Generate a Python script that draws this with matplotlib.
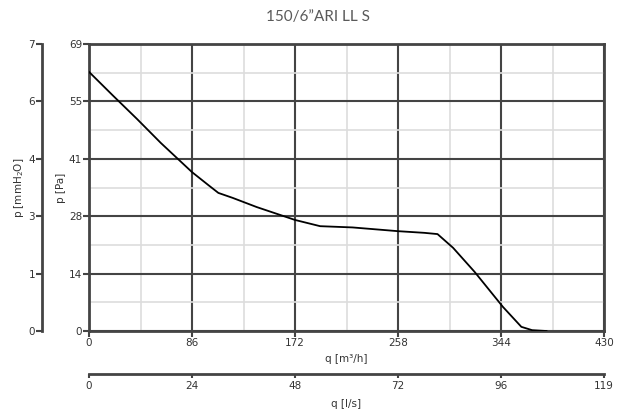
import matplotlib
matplotlib.use("Agg")
import matplotlib.pyplot as plt
import numpy as np

# Data
q_m3h = [0, 20, 40, 60, 86, 100, 108, 120, 140, 172, 193, 220, 258, 280, 291, 304, 322, 345.6, 361, 370, 382]
p_pa = [62.3, 56.6, 51.0, 45.2, 38.2, 35.0, 33.2, 32.0, 29.8, 26.7, 25.2, 24.9, 24.0, 23.6, 23.3, 20.0, 14.2, 5.8, 1.0, 0.2, 0.0]

x_ticks = [0, 86, 172, 258, 344, 430]
x_ticks_ls = ["0", "24", "48", "72", "96", "119"]
y_ticks_pa = ["0", "14", "28", "41", "55", "69"]
y_ticks_mm = ["0", "1", "3", "4", "6", "7"]
title = "150/6\u201dARI LL S"

W, H = 635, 413
fig = plt.figure(figsize=(W / 100, H / 100), dpi=100)
plt.rcParams['font.family'] = ['DejaVu Sans']

spine_c = "#444444"
txt_c = "#333333"
fs = 7.5

x0, x1, y0, y1 = 89, 604, 331, 44
ax = fig.add_axes([x0 / W, (H - y0) / H, (x1 - x0) / W, (y0 - y1) / H])
ymax = 69
ax.set_xlim(0, 430)
ax.set_ylim(0, ymax)
ypos = np.linspace(0, ymax, 6)
ax.set_xticks(x_ticks)
ax.set_yticks(ypos)
ax.set_yticklabels(y_ticks_pa)
ax.set_xticks(np.arange(43, 430, 86), minor=True)
ax.set_yticks(ypos[:-1] + ymax / 10, minor=True)
ax.grid(which="minor", color="#dddddd", lw=1.2, zorder=0)
ax.grid(which="major", color="#444444", lw=1.5, zorder=1)
for s in ax.spines.values():
    s.set_color(spine_c)
    s.set_linewidth(2)
ax.tick_params(which="major", colors=spine_c, labelcolor=txt_c, labelsize=fs, length=4, width=1.5, pad=1)
ax.tick_params(which="minor", length=0)
ax.plot(q_m3h, p_pa, color="black", lw=1.3, zorder=3)
ax.set_xlabel("q [m\u00b3/h]", fontsize=fs, color=txt_c, labelpad=4)
ax.set_ylabel("p [Pa]", fontsize=fs, color=txt_c, labelpad=2)

# outer mmH2O axis
ax_mm = fig.add_axes([42 / W, (H - y0) / H, 0.001, (y0 - y1) / H])
ax_mm.set_ylim(0, ymax)
ax_mm.set_yticks(ypos)
ax_mm.set_yticklabels(y_ticks_mm)
ax_mm.set_xticks([])
for k in ["top", "right", "bottom"]:
    ax_mm.spines[k].set_visible(False)
ax_mm.spines["left"].set_color(spine_c)
ax_mm.spines["left"].set_linewidth(2)
ax_mm.patch.set_visible(False)
ax_mm.tick_params(colors=spine_c, labelcolor=txt_c, labelsize=fs, length=4, width=1.5, pad=1)
ax_mm.set_ylabel("p [mmH$_2$O]", fontsize=fs, color=txt_c, labelpad=2)

# lower l/s axis
yb = 374
ax_ls = fig.add_axes([x0 / W, (H - yb) / H, (x1 - x0) / W, 0.001])
ax_ls.set_xlim(0, 430)
ax_ls.set_xticks(x_ticks)
ax_ls.set_xticklabels(x_ticks_ls)
ax_ls.set_yticks([])
for k in ["top", "right", "left"]:
    ax_ls.spines[k].set_visible(False)
ax_ls.spines["bottom"].set_color(spine_c)
ax_ls.spines["bottom"].set_linewidth(2)
ax_ls.patch.set_visible(False)
ax_ls.tick_params(colors=spine_c, labelcolor=txt_c, labelsize=fs, length=3, width=1.5, pad=2, direction="out")
ax_ls.set_xlabel("q [l/s]", fontsize=fs, color=txt_c, labelpad=6)

fig.text(0.5, 1 - 17 / H, title, ha="center", va="center", fontsize=11, color="#5a5a5a",
         family=["Lato", "DejaVu Sans"])

fig.savefig("out.png", dpi=100)
